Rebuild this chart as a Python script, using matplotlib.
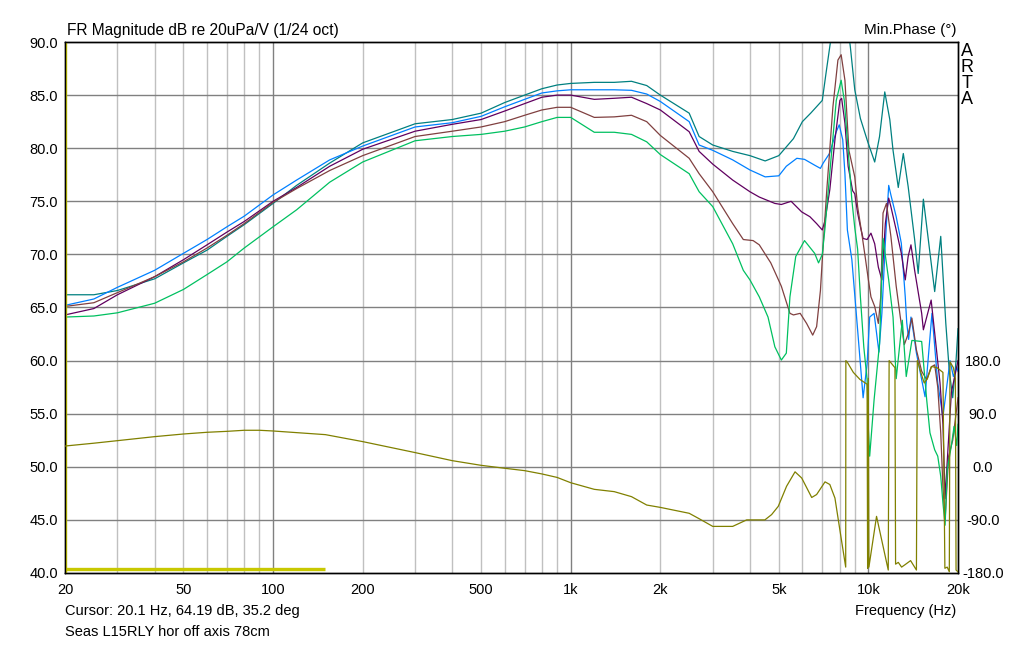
import numpy as np
import matplotlib.pyplot as plt

plt.rcParams['font.family'] = ['Liberation Sans', 'DejaVu Sans']

# shared low/mid frequency points (Hz)
freq_lo = [20, 25, 30, 40, 50, 60, 70, 80, 100, 120, 155, 200, 300, 400, 500,
           600, 700, 800, 900, 1000, 1200, 1400, 1600, 1800, 2000, 2500]

teal_lo = [66.2, 66.2, 66.6, 67.7, 69.2, 70.4, 71.7, 72.8, 74.8, 76.5, 78.6, 80.5, 82.3, 82.7, 83.3,
           84.3, 85.0, 85.6, 85.95, 86.1, 86.2, 86.2, 86.3, 85.9, 85.0, 83.3]
blue_lo = [65.2, 65.8, 66.9, 68.5, 70.1, 71.4, 72.6, 73.6, 75.6, 77.0, 78.9, 80.2, 82.0, 82.4, 83.0,
           83.9, 84.6, 85.2, 85.4, 85.5, 85.5, 85.5, 85.45, 85.1, 84.4, 82.5]
purple_lo = [64.3, 64.9, 66.2, 67.9, 69.5, 70.9, 72.1, 73.1, 75.0, 76.3, 78.3, 79.9, 81.6, 82.25, 82.7,
             83.5, 84.2, 84.8, 85.0, 85.0, 84.6, 84.7, 84.8, 84.2, 83.6, 81.55]
brown_lo = [65.1, 65.45, 66.4, 67.9, 69.3, 70.6, 71.8, 72.9, 74.9, 76.2, 77.9, 79.3, 81.1, 81.6, 82.0,
            82.5, 83.1, 83.6, 83.85, 83.85, 82.9, 82.95, 83.1, 82.5, 81.2, 79.05]
green_lo = [64.1, 64.2, 64.5, 65.4, 66.7, 68.1, 69.3, 70.6, 72.6, 74.2, 76.8, 78.7, 80.7, 81.1, 81.3,
            81.6, 82.0, 82.5, 82.9, 82.9, 81.5, 81.5, 81.3, 80.6, 79.4, 77.6]

# high frequency parts, read separately per curve
teal_hf_f = [2700, 3000, 3500, 4000, 4500, 5000, 5600, 6000, 6400, 7000, 7200, 7500, 8000, 8400,
             8700, 9000, 9400, 9950, 10500, 10900, 11350, 11800, 12100, 12600, 13100, 13600,
             14300, 14700, 15300, 16700, 17500, 18200, 18700, 19200, 19700, 20000]
teal_hf_db = [81.1, 80.3, 79.7, 79.3, 78.8, 79.3, 80.9, 82.5, 83.3, 84.5, 87.0, 90.5, 94.5, 93.0,
              89.5, 85.5, 82.8, 80.6, 78.7, 81.1, 85.3, 82.7, 79.8, 76.3, 79.5, 76.4,
              71.4, 68.2, 75.2, 66.5, 71.7, 63.5, 59.0, 56.5, 60.0, 63.0]

blue_hf_f = [2700, 3000, 3500, 4000, 4500, 5000, 5300, 5750, 6100, 6600, 6900, 7050, 7400, 7800,
             7980, 8200, 8340, 8500, 8800, 9200, 9600, 9900, 10100, 10450, 10850, 11100, 11400,
             11700, 11900, 12400, 12900, 13300, 13450, 13650, 13900, 14200, 14500, 15500, 16350,
             17100, 17800, 18800, 19300, 19800, 20000]
blue_hf_db = [80.3, 79.8, 78.9, 77.95, 77.3, 77.4, 78.3, 79.05, 78.95, 78.4, 78.1, 78.6, 79.5, 81.55,
              82.2, 80.8, 77.6, 72.3, 69.5, 62.9, 56.5, 59.7, 64.1, 64.45, 60.8, 64.45, 71.1,
              76.5, 75.6, 73.55, 71.05, 66.0, 63.6, 62.0, 64.1, 62.5, 60.7, 56.6, 64.45,
              57.9, 54.7, 60.0, 58.5, 59.4, 59.0]

purple_hf_f = [2700, 3000, 3500, 4000, 4300, 4850, 5100, 5500, 5970, 6360, 6700, 7000, 7150, 7420,
               7720, 8020, 8130, 8340, 8550, 8850, 9000, 9200, 9400, 9600, 9900, 10200, 10500,
               10800, 11100, 11400, 11700, 11900, 12400, 12900, 13300, 13600, 13900, 14300, 15100,
               15300, 16250, 16700, 17400, 17800, 18100, 18400, 19000, 19500, 20000]
purple_hf_db = [79.7, 78.5, 77.0, 75.9, 75.4, 74.8, 74.7, 75.0, 74.0, 73.55, 72.9, 72.3, 73.2, 76.1,
                80.8, 84.5, 84.7, 82.35, 78.3, 76.0, 75.7, 73.9, 72.6, 71.5, 71.4, 72.0, 71.0,
                68.8, 67.6, 72.9, 75.3, 74.5, 72.3, 70.1, 67.6, 69.8, 70.9, 68.5, 64.45,
                62.9, 65.7, 62.6, 57.9, 54.0, 47.0, 50.5, 57.0, 58.5, 60.0]

brown_hf_f = [2700, 3000, 3500, 3800, 4100, 4300, 4700, 5100, 5450, 5600, 5900, 6200, 6500, 6700,
              6900, 7000, 7100, 7250, 7600, 7900, 8100, 8340, 8600, 9000, 9200, 9500, 9750, 10000,
              10200, 10500, 10800, 11000, 11200, 11500, 11900, 12400, 12800, 13200, 13600, 14000,
              14500, 15100, 15700, 16250, 16700, 17100, 17500, 17800, 18100, 18600, 19200, 19700,
              20000]
brown_hf_db = [77.6, 75.9, 72.9, 71.4, 71.3, 70.9, 69.2, 67.0, 64.45, 64.3, 64.45, 63.5, 62.4, 63.2,
               66.6, 69.5, 72.3, 76.1, 83.9, 88.3, 88.8, 86.4, 79.8, 77.3, 74.5, 72.0, 69.8, 67.6,
               66.0, 65.1, 63.5, 66.0, 73.9, 74.8, 71.7, 67.0, 64.1, 61.5, 62.5, 64.0,
               61.0, 59.0, 58.2, 59.4, 59.6, 57.5, 53.2, 48.1, 45.0, 51.0, 52.5, 55.0,
               56.5]

green_hf_f = [2700, 3000, 3500, 3800, 4000, 4300, 4600, 4850, 5100, 5300, 5450, 5700, 6100, 6600,
              6800, 7000, 7150, 7500, 7800, 8100, 8300, 8550, 8800, 9000, 9200, 9400, 9650, 9900,
              10000, 10100, 10450, 10900, 11200, 11700, 12100, 12400, 13000, 13400, 14000, 15100,
              15700, 16100, 16700, 17100, 17500, 17800, 18100, 18400, 19000, 19400, 19800, 20000]
green_hf_db = [75.9, 74.5, 71.0, 68.5, 67.6, 66.0, 64.1, 61.3, 60.05, 60.7, 66.0, 69.8, 71.3, 70.1,
               69.2, 70.0, 72.5, 79.2, 84.5, 86.4, 84.5, 79.8, 75.1, 72.5, 70.5, 66.0, 61.3, 58.2,
               53.5, 51.0, 56.3, 61.6, 71.5, 67.6, 64.1, 58.3, 63.8, 58.5, 61.9, 61.8,
               56.3, 53.2, 51.6, 51.0, 49.1, 46.6, 44.5, 49.7, 52.0, 53.8, 52.0, 54.0]

# minimum phase (deg), wraps are two points at almost the same frequency
phase_f = [20, 25, 30, 40, 50, 60, 70, 80, 90, 100, 150, 200, 300, 400, 500, 600, 700, 800, 900,
           1000, 1200, 1400, 1600, 1800, 2000, 2500, 2700, 3000, 3500, 3900, 4490, 4730, 4980,
           5310, 5670, 5970, 6450, 6700, 7150, 7420, 7720, 8020, 8390, 8400, 8500, 8900, 9370,
           9900, 9940, 9990, 10040, 10650, 11660, 11740, 12280, 12340, 12600, 12930, 13270,
           13860, 14500, 14600, 14700, 15000, 15400, 15800, 16300, 17000, 17800, 18070, 18400,
           18700, 18800, 19300, 19600, 19700, 20000]
phase_deg = [35.2, 40, 44.3, 51.1, 55.6, 58.5, 60.1, 61.9, 61.9, 60.7, 54.5, 42.7, 24.1, 10.4, 2.5,
             -2.5, -6.5, -12.1, -18, -27, -38.2, -42.1, -50.6, -64.8, -68.8, -78.8, -88, -101,
             -101, -90, -90, -81, -67, -33, -8.5, -19, -52, -47, -25.5, -30, -53, -107, -170, 180,
             177, 160, 148, 140, -172, 150, -170, -84, -175, 180, 168, -165, -162, -170, -166,
             -159, -175, 180, 176, 160, 142, 150, 170, 168, 160, -172, -170, -178, 178, 168, 150,
             -175, -178]

# cursor marker
cursor_f = 20.1
cursor_bar_f = [20, 150]
cursor_bar_db = [40.4, 40.4]

series = [
    (teal_lo, teal_hf_f, teal_hf_db, '#008080'),
    (blue_lo, blue_hf_f, blue_hf_db, '#0080ff'),
    (purple_lo, purple_hf_f, purple_hf_db, '#600060'),
    (brown_lo, brown_hf_f, brown_hf_db, '#804040'),
    (green_lo, green_hf_f, green_hf_db, '#00c060'),
]

fig = plt.figure(figsize=(10.21, 6.45), dpi=100)
W, H = 1021.0, 645.0
ax = fig.add_axes([65 / W, (H - 573) / H, (958 - 65) / W, (573 - 42) / H])

ax.set_xscale('log')
ax.set_xlim(20, 20000)
ax.set_ylim(40, 90)

# grid, ARTA style
minor = []
for dec in [10, 100, 1000, 10000]:
    for m in range(2, 10):
        minor.append(dec * m)
for f in minor:
    if 20 < f < 20000:
        ax.axvline(f, color='#c0c0c0', lw=1.0, zorder=0)
for f in [100, 1000, 10000]:
    ax.axvline(f, color='#808080', lw=1.0, zorder=0)
for y in range(45, 90, 5):
    ax.axhline(y, color='#808080', lw=1.0, zorder=0)

for lo, hf_f, hf_db, col in series:
    ax.plot(freq_lo + hf_f, lo + hf_db, color=col, lw=0.9, zorder=3)

ax.axvline(cursor_f, color='#c8c800', lw=1.0, zorder=4)
ax.plot(cursor_bar_f, cursor_bar_db, color='#c8c800', lw=2.4, solid_capstyle='butt', zorder=4)

xt = [20, 50, 100, 200, 500, 1000, 2000, 5000, 10000, 20000]
xl = ['20', '50', '100', '200', '500', '1k', '2k', '5k', '10k', '20k']
ax.set_xticks(xt)
ax.set_xticklabels(xl)
ax.xaxis.set_minor_locator(plt.NullLocator())
ax.set_yticks(np.arange(40, 91, 5))
ax.set_yticklabels(['%.1f' % v for v in np.arange(40, 91, 5)])
ax.tick_params(axis='both', length=0, labelsize=10.5, colors='black')
ax.tick_params(axis='y', pad=5)
ax.tick_params(axis='x', pad=7)

ax2 = ax.twinx()
ax2.set_ylim(-180, 720)
ax2.plot(phase_f, phase_deg, color='#808000', lw=0.9, zorder=3)
ax2.set_yticks([-180, -90, 0, 90, 180])
ax2.set_yticklabels(['-180.0', '-90.0', '0.0', '90.0', '180.0'])
ax2.tick_params(axis='y', length=0, labelsize=10.5, pad=18)
for lab in ax2.get_yticklabels():
    lab.set_horizontalalignment('center')

for a in (ax, ax2):
    for s in a.spines.values():
        s.set_color('black')
        s.set_linewidth(1.0)

fig.text(67 / W, 1 - 30 / H, 'FR Magnitude dB re 20uPa/V (1/24 oct)', fontsize=11.2, va='center', ha='left')
fig.text(956 / W, 1 - 30 / H, 'Min.Phase (\u00b0)', fontsize=11, va='center', ha='right')
for i, ch in enumerate('ARTA'):
    fig.text(967 / W, 1 - (52 + i * 16) / H, ch, fontsize=13, va='center', ha='center')
fig.text(956 / W, 1 - 611 / H, 'Frequency (Hz)', fontsize=10.5, va='center', ha='right')
fig.text(65 / W, 1 - 611 / H, 'Cursor: 20.1 Hz, 64.19 dB, 35.2 deg', fontsize=10.5, va='center', ha='left')
fig.text(65 / W, 1 - 632 / H, 'Seas L15RLY hor off axis 78cm', fontsize=10.5, va='center', ha='left')

fig.savefig('out.png', dpi=100)
